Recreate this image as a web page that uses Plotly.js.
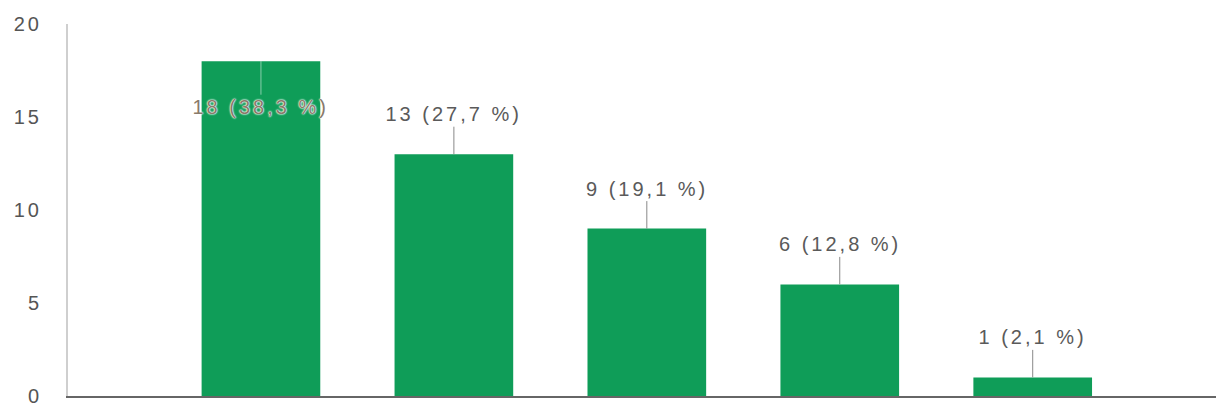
<!DOCTYPE html>
<html>
<head>
<meta charset="utf-8">
<script src="https://cdn.plot.ly/plotly-3.0.1.min.js"></script>
<style>
html,body{margin:0;padding:0;background:#fff;}
#chart{width:1216px;height:409px;}
#chart text.annotation-text{letter-spacing:3px;}
#chart .ytick text{letter-spacing:3px;}
</style>
</head>
<body>
<div id="chart"></div>
<script>
var positions = [1, 2, 3, 4, 5];
var counts = [18, 13, 9, 6, 1];
var percents = ["38,3", "27,7", "19,1", "12,8", "2,1"];
var yTicks = [0, 5, 10, 15, 20];

var labels = counts.map(function (c, i) { return c + " (" + percents[i] + " %)"; });

var FONT = "Liberation Sans, Arial, sans-serif";

var annotations = positions.map(function (p, i) {
  var inside = counts[i] > 16;
  return {
    x: p, y: counts[i], xref: "x", yref: "y",
    text: labels[i],
    showarrow: true, arrowhead: 0, arrowwidth: 1,
    arrowcolor: inside ? "rgba(255,255,255,0.5)" : "#888",
    ax: 0, ay: inside ? 46 : -40,
    standoff: 0,
    font: {family: FONT, size: 20, color: inside ? "#8a7a6a" : "#5a5a5a",
           shadow: inside ? "0 0 2px #fff, 0 0 2px #fff, 0 0 1px #fff" : "none"}
  };
});

var data = [{
  type: "bar",
  x: positions,
  y: counts,
  width: 0.615,
  marker: {color: "#0F9D58"},
  hoverinfo: "none"
}];

var layout = {
  width: 1216, height: 409,
  margin: {l: 68, r: 0, t: 24, b: 13},
  paper_bgcolor: "#fff", plot_bgcolor: "#fff",
  showlegend: false,
  xaxis: {range: [0, 5.95], showticklabels: false, ticks: "", showgrid: false, zeroline: false,
          showline: true, linecolor: "#666", linewidth: 2, fixedrange: true},
  yaxis: {range: [0, 20], tickvals: yTicks, ticktext: yTicks.map(String), showgrid: false, zeroline: false,
          showline: true, linecolor: "#cfcfcf", linewidth: 2, ticks: "", ticklabelstandoff: 20,
          tickfont: {family: FONT, size: 20, color: "#555"}},
  annotations: annotations
};

Plotly.newPlot("chart", data, layout, {displayModeBar: false, staticPlot: true});
</script>
</body>
</html>
